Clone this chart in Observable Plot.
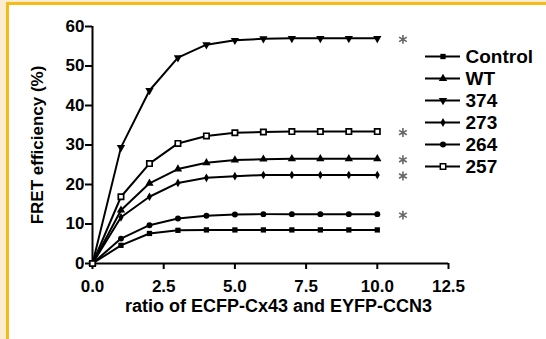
<!DOCTYPE html>
<html>
<head>
<meta charset="utf-8">
<script src="https://cdn.jsdelivr.net/npm/d3@7"></script>
<script src="https://cdn.jsdelivr.net/npm/@observablehq/plot@0.6"></script>
<style>
  html, body { margin: 0; padding: 0; width: 546px; height: 339px; overflow: hidden; background: #fcecd0; }
  #panel { position: absolute; left: 6px; top: 2px; right: 0; bottom: 0; background: #ffffff;
           border-left: 3.5px solid #f6bb1b; border-top: 3.5px solid #f6bb1b; }
  #chart { position: absolute; left: 0; top: 0; }
  #legend { position: absolute; left: 380px; top: 0; }
  svg { background: transparent !important; }
</style>
</head>
<body>
<div id="panel"></div>
<div id="chart"></div>
<div id="legend"></div>
<script>
// ---- data ----
const ratios = [0, 1, 2, 3, 4, 5, 6, 7, 8, 9, 10];
const seriesNames = ["Control", "WT", "374", "273", "264", "257"];
const control = [0, 4.6, 7.6, 8.4, 8.5, 8.5, 8.5, 8.5, 8.5, 8.5, 8.5];
const wt      = [0, 13.5, 20.3, 23.9, 25.5, 26.2, 26.4, 26.5, 26.5, 26.5, 26.5];
const m374    = [0, 29.4, 43.8, 52.1, 55.4, 56.5, 56.9, 57.0, 57.0, 57.0, 57.0];
const m273    = [0, 11.7, 16.9, 20.4, 21.7, 22.1, 22.4, 22.4, 22.4, 22.4, 22.4];
const m264    = [0, 6.3, 9.7, 11.4, 12.1, 12.4, 12.5, 12.5, 12.5, 12.5, 12.5];
const m257    = [0, 16.9, 25.3, 30.4, 32.3, 33.1, 33.3, 33.4, 33.4, 33.4, 33.4];
const significant = ["374", "257", "WT", "273", "264"];
const xTicks = [0, 2.5, 5, 7.5, 10, 12.5];
const yTicks = [0, 10, 20, 30, 40, 50, 60];
const xTitle = "ratio of ECFP-Cx43 and EYFP-CCN3";
const yTitle = "FRET efficiency (%)";

const valuesBySeries = {"Control": control, "WT": wt, "374": m374, "273": m273, "264": m264, "257": m257};
const rows = seriesNames.flatMap(s => ratios.map((r, i) => ({series: s, ratio: r, fret: valuesBySeries[s][i]})));
const starRows = significant.map(s => ({series: s, ratio: 10.9, fret: valuesBySeries[s][10]}));

// inverted triangle symbol
const triangleDown = {
  draw(context, size) {
    const y = -Math.sqrt(size / (Math.sqrt(3) * 3));
    context.moveTo(0, -y * 2);
    context.lineTo(-Math.sqrt(3) * y, y);
    context.lineTo(Math.sqrt(3) * y, y);
    context.closePath();
  }
};
const symbolRange = ["square", "triangle", triangleDown, "diamond", "circle", "square"];
const sizeBy = {"Control": 5.6, "WT": 6, "374": 6, "273": 4.4, "264": 5.6, "257": 5.8};

const font = "'Liberation Sans', Arial, Helvetica, sans-serif";

const chart = Plot.plot({
  width: 546,
  height: 339,
  marginLeft: 92,
  marginRight: 98,
  marginTop: 26,
  marginBottom: 76,
  style: {fontFamily: font, fontWeight: "bold", fontSize: "17px", color: "black", background: "transparent"},
  x: {domain: [0, 12.5]},
  y: {domain: [0, 60]},
  symbol: {domain: seriesNames, range: symbolRange},
  marks: [
    Plot.axisX({ticks: xTicks, tickFormat: d3.format(".1f"), tickSize: 6, tickPadding: 10, strokeWidth: 2, label: null, fontSize: 17, fontWeight: "bold"}),
    Plot.axisY({ticks: yTicks, tickSize: 7, tickPadding: 1, strokeWidth: 2, label: yTitle, labelAnchor: "center", labelArrow: "none", labelOffset: 62, fontSize: 17, fontWeight: "bold"}),
    Plot.ruleX([0], {strokeWidth: 2}),
    Plot.ruleY([0], {strokeWidth: 2}),
    Plot.line(rows, {x: "ratio", y: "fret", z: "series", stroke: "black", strokeWidth: 2}),
    Plot.dot(rows.filter(d => d.series !== "257"), {x: "ratio", y: "fret", symbol: "series", r: d => sizeBy[d.series], fill: "black", stroke: "none"}),
    Plot.dot(rows.filter(d => d.series === "257"), {x: "ratio", y: "fret", symbol: "series", r: d => sizeBy[d.series], fill: "white", stroke: "black", strokeWidth: 1.7}),
    Plot.dot(starRows, {x: "ratio", y: "fret", symbol: "asterisk", r: 4.2, stroke: "#666", strokeWidth: 1.6, dy: 1}),
    Plot.text([xTitle], {frameAnchor: "bottom", dx: 8, dy: 48, fontSize: 18, fontWeight: "bold"})
  ]
});
document.getElementById("chart").append(chart);

// ---- legend ----
const legendSymbolFill = {"Control": "black", "WT": "black", "374": "black", "273": "black", "264": "black", "257": "white"};
const legend = Plot.plot({
  width: 166,
  height: 200,
  margin: 0,
  style: {fontFamily: font, fontWeight: "bold", fontSize: "19px", color: "black", background: "transparent"},
  x: {domain: [0, 1], range: [45, 80], axis: null},
  y: {type: "point", domain: seriesNames, range: [42.7, 179.3], axis: null},
  symbol: {domain: seriesNames, range: symbolRange},
  marks: [
    Plot.ruleY(seriesNames, {y: d => d, x1: 0, x2: 1, stroke: "black", strokeWidth: 2}),
    Plot.dot(seriesNames, {x: 0.5, y: d => d, symbol: d => d, r: d => sizeBy[d] * 0.85,
      fill: d => legendSymbolFill[d], stroke: "black", strokeWidth: d => d === "257" ? 1.5 : 0}),
    Plot.text(seriesNames, {x: 1, y: d => d, text: d => d, dx: 5, textAnchor: "start", fontSize: 19, fontWeight: "bold"})
  ]
});
document.getElementById("legend").append(legend);
</script>
</body>
</html>
